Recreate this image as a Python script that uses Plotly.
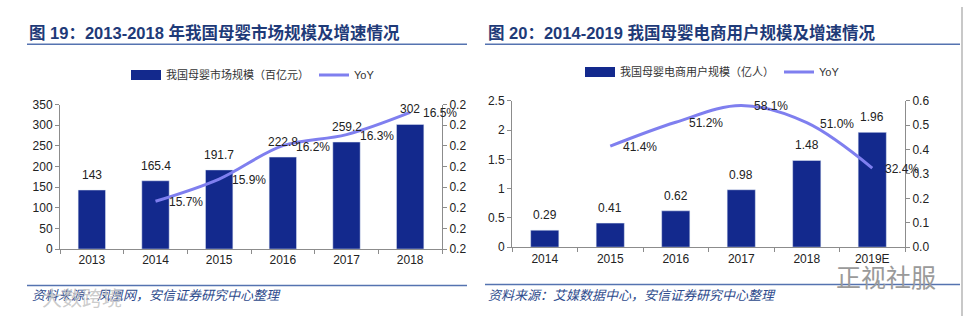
import plotly.graph_objects as go

# ---- data ----
years_market = ["2013", "2014", "2015", "2016", "2017", "2018"]
market_size = [143, 165.4, 191.7, 222.8, 259.2, 302]
market_yoy = [None, 0.157, 0.159, 0.162, 0.163, 0.165]

years_users = ["2014", "2015", "2016", "2017", "2018", "2019E"]
user_size = [0.29, 0.41, 0.62, 0.98, 1.48, 1.96]
user_yoy = [None, 0.414, 0.512, 0.581, 0.510, 0.324]

title_left = "图 19：2013-2018 年我国母婴市场规模及增速情况"
title_right = "图 20：2014-2019 我国母婴电商用户规模及增速情况"
source_left = "资料来源：凤凰网，安信证券研究中心整理"
source_right = "资料来源：艾媒数据中心，安信证券研究中心整理"
name_market = "我国母婴市场规模（百亿元）"
name_users = "我国母婴电商用户规模（亿人）"

# ---- style ----
W, H = 964, 323
BAR = "#13298D"
LINE = "#7F7FEF"
AX = "#8C8C8C"
TXT = "#222222"
TITLE_C = "#1E3A78"
RULE_C = "#5573B0"
LAT = "Liberation Sans, Arial, Noto Sans CJK SC, sans-serif"
CJK = "Liberation Sans, Noto Sans CJK SC, sans-serif"


def px(x):
    return x / W


def py(y):
    return 1 - y / H


fig = go.Figure()

# left chart
fig.add_trace(go.Bar(
    x=years_market, y=market_size, name=name_market, marker_color=BAR,
    xaxis="x", yaxis="y", showlegend=False))
fig.add_trace(go.Scatter(  # legend-only key (wide rectangle swatch)
    x=[None], y=[None], name=name_market, mode="lines",
    line=dict(color=BAR, width=10), xaxis="x", yaxis="y", legend="legend"))
fig.add_trace(go.Scatter(
    x=years_market, y=market_yoy, name="YoY", mode="lines",
    line=dict(color=LINE, width=3, shape="spline", smoothing=1),
    xaxis="x", yaxis="y2", legend="legend"))

# right chart
fig.add_trace(go.Bar(
    x=years_users, y=user_size, name=name_users, marker_color=BAR,
    xaxis="x2", yaxis="y3", showlegend=False))
fig.add_trace(go.Scatter(
    x=[None], y=[None], name=name_users, mode="lines",
    line=dict(color=BAR, width=10), xaxis="x2", yaxis="y3", legend="legend2"))
fig.add_trace(go.Scatter(
    x=years_users, y=user_yoy, name="YoY", mode="lines",
    line=dict(color=LINE, width=3, shape="spline", smoothing=1),
    xaxis="x2", yaxis="y4", legend="legend2"))

tickfont = dict(family=LAT, size=12, color=TXT)
common_x = dict(showline=True, linecolor=AX, linewidth=1, ticks="outside",
                tickson="boundaries", ticklen=4, tickcolor=AX,
                tickfont=tickfont, showgrid=False, zeroline=False,
                type="category", autorange=False, range=[-0.5, 5.5])
common_y = dict(showline=True, linecolor=AX, linewidth=1, ticks="outside",
                ticklen=4, tickcolor=AX, tickfont=tickfont, showgrid=False,
                zeroline=False)

lo, hi = 0.1527, 0.1657
legfont = dict(family=CJK, size=11, color="#333")
fig.update_layout(
    width=W, height=H, margin=dict(l=0, r=0, t=0, b=0),
    paper_bgcolor="white", plot_bgcolor="white", bargap=0.57,
    showlegend=True,
    xaxis=dict(domain=[px(60), px(442)], anchor="y", **common_x),
    yaxis=dict(domain=[py(253), py(102)], anchor="x", range=[0, 350],
               dtick=50, side="left", **common_y),
    yaxis2=dict(anchor="x", overlaying="y", side="right", range=[lo, hi],
                tick0=lo, dtick=(hi - lo) / 7, tickformat=".1f", **common_y),
    xaxis2=dict(domain=[px(512), px(905)], anchor="y3", **common_x),
    yaxis3=dict(domain=[py(251), py(98)], anchor="x2", range=[0, 2.5],
                dtick=0.5, side="left", **common_y),
    yaxis4=dict(anchor="x2", overlaying="y3", side="right", range=[0, 0.6],
                dtick=0.1, tickformat=".1f", **common_y),
    legend=dict(orientation="h", x=px(126), y=py(71), xanchor="left",
                yanchor="middle", font=legfont, itemwidth=30,
                bgcolor="rgba(0,0,0,0)"),
    legend2=dict(orientation="h", x=px(580), y=py(68), xanchor="left",
                 yanchor="middle", font=legfont, itemwidth=30,
                 bgcolor="rgba(0,0,0,0)"),
)

annotations = []
labfont = dict(family=LAT, size=12, color=TXT)


def bar_labels(ys, xref, yref, fmt):
    # x given as category index on the category axis
    for i, yv in enumerate(ys):
        annotations.append(dict(
            x=i, y=yv, xref=xref, yref=yref, text=fmt(yv), showarrow=False,
            xanchor="center", yanchor="middle", yshift=15, font=labfont))


def yoy_labels(ys, xref, yref):
    for i, yv in enumerate(ys):
        if yv is None:
            continue
        annotations.append(dict(
            x=i, y=yv, xref=xref, yref=yref, text=f"{yv:.1%}",
            showarrow=False, xanchor="left", yanchor="middle", xshift=11,
            yshift=-1, font=labfont))


bar_labels(market_size, "x", "y", lambda v: f"{v:g}")
yoy_labels(market_yoy, "x", "y2")
bar_labels(user_size, "x2", "y3", lambda v: f"{v:.2f}")
yoy_labels(user_yoy, "x2", "y4")

deco = [
    dict(text="<b>" + title_left + "</b>", x=px(27), y=py(27), xanchor="left",
         yanchor="middle", font=dict(family=CJK, size=16.5, color=TITLE_C)),
    dict(text="<b>" + title_right + "</b>", x=px(486), y=py(27), xanchor="left",
         yanchor="middle", font=dict(family=CJK, size=16.5, color=TITLE_C)),
    dict(text="<i>" + source_left + "</i>", x=px(30), y=py(302), xanchor="left",
         yanchor="middle", font=dict(family=CJK, size=13, color="#2D4A8C")),
    dict(text="<i>" + source_right + "</i>", x=px(486), y=py(302), xanchor="left",
         yanchor="middle", font=dict(family=CJK, size=13, color="#2D4A8C")),
    dict(text="正视社服", x=px(834), y=py(283), xanchor="left", yanchor="middle",
         font=dict(family=CJK, size=25, color="#9A9A9A")),
    dict(text="大数跨境", x=px(40), y=py(305), xanchor="left", yanchor="middle",
         font=dict(family=CJK, size=20, color="rgba(195,195,195,0.85)")),
]
for a in deco:
    a.update(xref="paper", yref="paper", showarrow=False)
annotations.extend(deco)
fig.update_layout(annotations=annotations)

shapes = [
    dict(type="line", x0=px(27), x1=px(467), y0=py(39), y1=py(39),
         line=dict(color=RULE_C, width=1.5)),
    dict(type="line", x0=px(485), x1=px(960), y0=py(39), y1=py(39),
         line=dict(color=RULE_C, width=1.5)),
    dict(type="line", x0=px(27), x1=px(467), y0=py(291), y1=py(291),
         line=dict(color=RULE_C, width=1.5)),
    dict(type="line", x0=px(485), x1=px(960), y0=py(290), y1=py(290),
         line=dict(color=RULE_C, width=1.5)),
    dict(type="line", x0=px(962), x1=px(962), y0=0, y1=1,
         line=dict(color="#C8C8C8", width=2)),
]
for s in shapes:
    s.update(xref="paper", yref="paper")
fig.update_layout(shapes=shapes)

fig.write_html("out.html")
